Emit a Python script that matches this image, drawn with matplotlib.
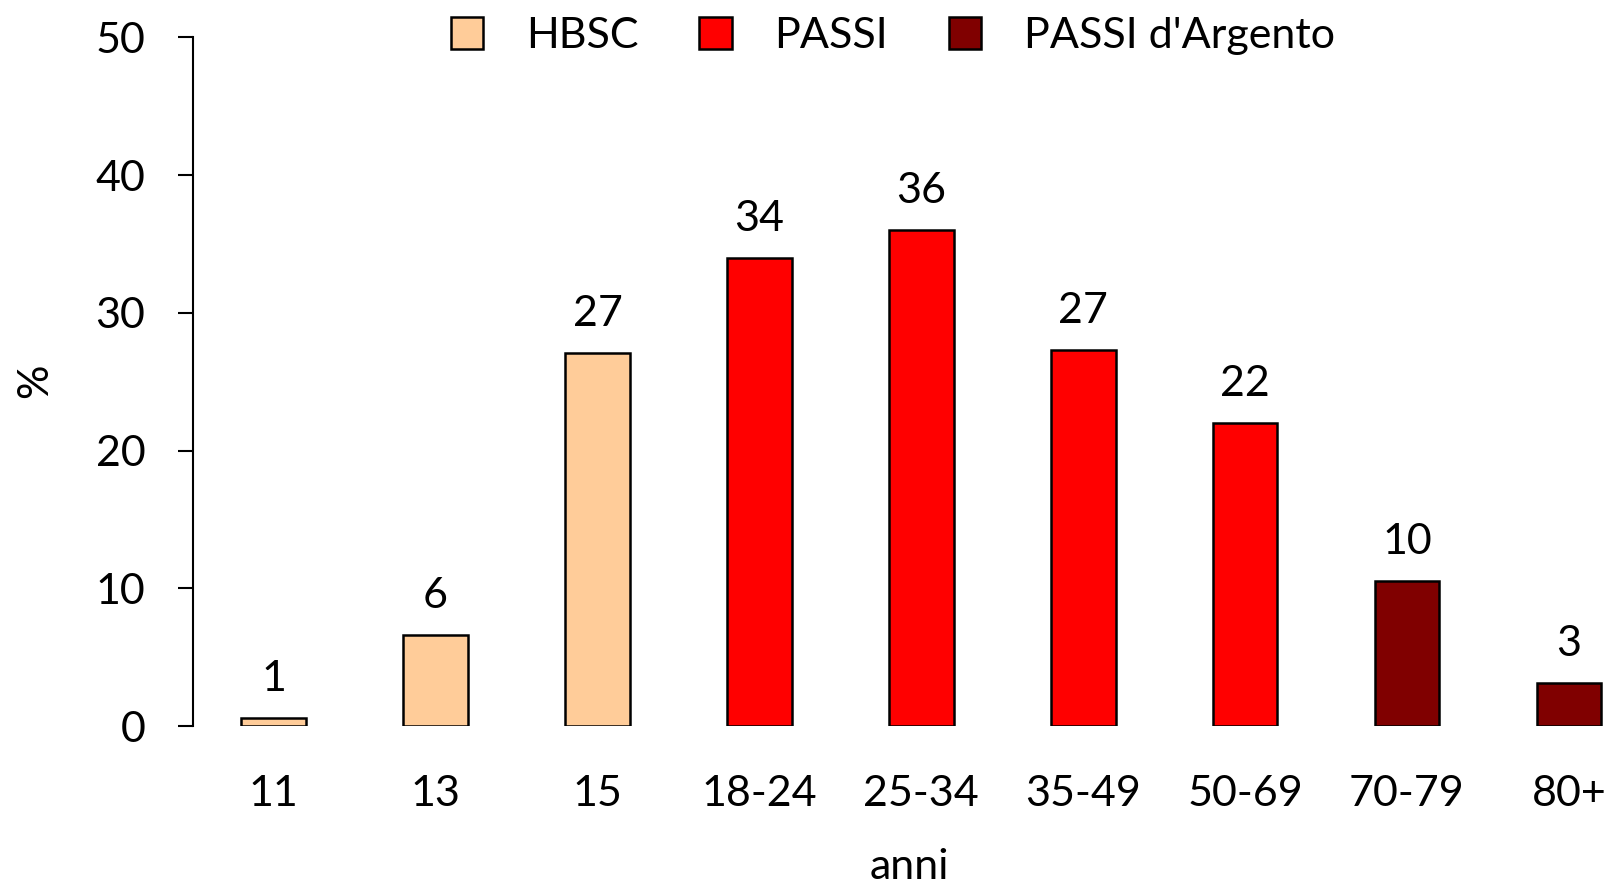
import matplotlib
matplotlib.use('Agg')
import matplotlib.pyplot as plt
from matplotlib.patches import Patch

plt.rcParams['font.family'] = ['Lato', 'DejaVu Sans']

# dati
categorie = ['11', '13', '15', '18-24', '25-34', '35-49', '50-69', '70-79', '80+']
valori = [0.6, 6.6, 27.1, 34.0, 36.0, 27.3, 22.0, 10.5, 3.1]
etichette = ['1', '6', '27', '34', '36', '27', '22', '10', '3']
indagine = ['HBSC', 'HBSC', 'HBSC', 'PASSI', 'PASSI', 'PASSI', 'PASSI',
            "PASSI d'Argento", "PASSI d'Argento"]
colori = {'HBSC': '#FFCC99', 'PASSI': '#FF0000', "PASSI d'Argento": '#800000'}

fs = 31

fig = plt.figure(figsize=(16.14, 8.86), dpi=100)
ax = fig.add_axes([192.7 / 1614, 1 - 726 / 886, 1411.8 / 1614, (726 - 37.3) / 886])

x = list(range(len(categorie)))
bars = ax.bar(x, valori, width=0.4, color=[colori[s] for s in indagine],
              edgecolor='black', linewidth=1.8, zorder=3)

for b, lab in zip(bars, etichette):
    ax.annotate(lab, (b.get_x() + b.get_width() / 2, b.get_height()),
                xytext=(0, 27), textcoords='offset pixels',
                ha='center', va='baseline', fontsize=fs)

ax.set_xlim(-0.5, 8.22)
ax.set_ylim(0, 50)
ax.set_yticks([0, 10, 20, 30, 40, 50])
ax.set_xticks(x)
ax.set_xticklabels(categorie)

for s in ['top', 'right', 'bottom']:
    ax.spines[s].set_visible(False)
ax.spines['left'].set_linewidth(1.5)

ax.tick_params(axis='y', length=11, width=1.5, pad=23, labelsize=fs)
ax.tick_params(axis='x', length=0, pad=35, labelsize=fs)

fig.text(35 / 1614, 1 - 381 / 886, '%', rotation=90, ha='center', va='center', fontsize=fs)
fig.text(909 / 1614, 1 - 867 / 886, 'anni', ha='center', va='center', fontsize=fs)

handles = [Patch(facecolor=colori[k], edgecolor='black', linewidth=1.8, label=k)
           for k in colori]
fig.legend(handles=handles, loc='center', bbox_to_anchor=(893 / 1614, 1 - 36 / 886),
           ncol=3, frameon=False, fontsize=fs, handlelength=0.75, handleheight=0.75,
           handletextpad=1.0, columnspacing=1.4, borderpad=0, borderaxespad=0)

fig.savefig('out.png', dpi=100)
